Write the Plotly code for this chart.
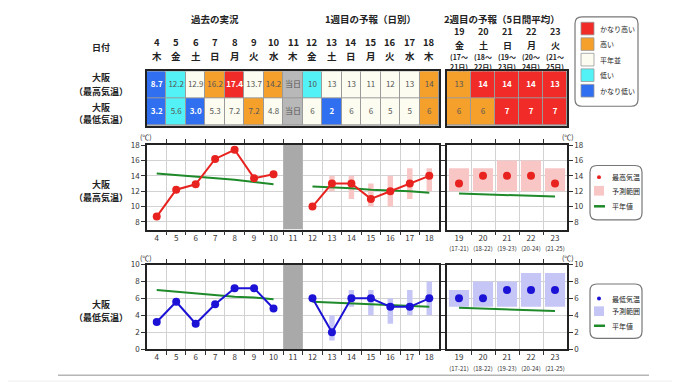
import plotly.graph_objects as go

# ---------------- data ----------------
days_w1 = [4, 5, 6, 7, 8, 9, 10, 11, 12, 13, 14, 15, 16, 17, 18]
weekdays_w1 = ["木", "金", "土", "日", "月", "火", "水", "木", "金", "土", "日", "月", "火", "水", "木"]
today = 11

obs_days = [4, 5, 6, 7, 8, 9, 10]
obs_max = [8.7, 12.2, 12.9, 16.2, 17.4, 13.7, 14.2]
obs_min = [3.2, 5.6, 3.0, 5.3, 7.2, 7.2, 4.8]
norm_max_obs = [14.3, 14.1, 13.9, 13.7, 13.5, 13.2, 12.9]
norm_min_obs = [7.0, 6.8, 6.6, 6.4, 6.2, 6.1, 5.9]

fc_days = [12, 13, 14, 15, 16, 17, 18]
fc_max = [10, 13, 13, 11, 12, 13, 14]
fc_min = [6, 2, 6, 6, 5, 5, 6]
fc_max_lo = [None, 12, 11, 10, 10, 11, 12]
fc_max_hi = [None, 14, 14, 13, 14, 15, 15]
fc_min_lo = [None, 1, 5, 4, 3, 4, 4]
fc_min_hi = [None, 4, 7, 7, 6, 7, 8]
norm_max_fc = [12.6, 12.5, 12.4, 12.2, 12.1, 12.0, 11.8]
norm_min_fc = [5.6, 5.5, 5.4, 5.3, 5.2, 5.1, 5.0]

w2_days = [19, 20, 21, 22, 23]
w2_weekdays = ["金", "土", "日", "月", "火"]
w2_period_start = [17, 18, 19, 20, 21]
w2_period_end = [21, 22, 23, 24, 25]
w2_max = [13, 14, 14, 14, 13]
w2_max_lo = [12, 12, 12, 12, 12]
w2_max_hi = [15, 15, 16, 16, 15]
w2_min = [6, 6, 7, 7, 7]
w2_min_lo = [5, 5, 5, 5, 5]
w2_min_hi = [7, 8, 8, 9, 9]
w2_norm_max = [11.7, 11.6, 11.5, 11.4, 11.3]
w2_norm_min = [4.9, 4.8, 4.7, 4.6, 4.5]

max_range = [7, 18]
max_ticks = [8, 10, 12, 14, 16, 18]
min_range = [0, 10]
min_ticks = [0, 2, 4, 6, 8, 10]

# table: class 0=かなり低い 1=低い 2=平年並 3=高い 4=かなり高い 5=当日
tab_max_text = ["8.7", "12.2", "12.9", "16.2", "17.4", "13.7", "14.2", "当日", "10", "13", "13", "11", "12", "13", "14"]
tab_max_cls = [0, 1, 2, 3, 4, 2, 3, 5, 1, 2, 2, 2, 2, 2, 3]
tab_min_text = ["3.2", "5.6", "3.0", "5.3", "7.2", "7.2", "4.8", "当日", "6", "2", "6", "6", "5", "5", "6"]
tab_min_cls = [0, 1, 0, 2, 2, 3, 2, 5, 2, 0, 2, 2, 2, 2, 3]
tab2_max_text = ["13", "14", "14", "14", "13"]
tab2_max_cls = [3, 4, 4, 4, 4]
tab2_min_text = ["6", "6", "7", "7", "7"]
tab2_min_cls = [3, 3, 4, 4, 4]

class_names = ["かなり低い", "低い", "平年並", "高い", "かなり高い"]
class_colors = ["#2f6ff0", "#52f2f6", "#fcfcf0", "#f6a02c", "#f02b28", "#b8b8b8"]

# ---------------- layout helpers ----------------
W, H = 680, 382
FONT = "Noto Sans CJK JP"


def px(x):
    return x / W


def py(y):
    return 1 - y / H


x_w1 = [px(139), px(431)]
x_w2 = [px(439), px(559)]
y_tab = [py(115), py(59)]
y_c1 = [py(222), py(135)]
y_c2 = [py(345), py(258)]

fig = go.Figure()

# ---------------- tables ----------------
n6 = len(class_colors)
cscale = []
for i, c in enumerate(class_colors):
    cscale.append([i / n6, c])
    cscale.append([(i + 1) / n6, c])


def add_table(xs, rows_text, rows_cls, xa, ya):
    fig.add_trace(go.Heatmap(
        x=xs, y=[0, 1], z=rows_cls, colorscale=cscale, zmin=-0.5, zmax=n6 - 0.5,
        showscale=False, xgap=1, ygap=1, hoverinfo="skip", xaxis=xa, yaxis=ya))
    tx, ty, tt, tc = [], [], [], []
    for r, (texts, clss) in enumerate(zip(rows_text, rows_cls)):
        for d, t, c in zip(xs, texts, clss):
            tx.append(d)
            ty.append(r)
            if c in (0, 4):
                tt.append("<b>" + t + "</b>")
                tc.append("white")
            else:
                tt.append(t)
                tc.append("#555555")
    fig.add_trace(go.Scatter(x=tx, y=ty, text=tt, mode="text",
                             textfont=dict(family=FONT, size=8, color=tc),
                             hoverinfo="skip", xaxis=xa, yaxis=ya, showlegend=False))


add_table(days_w1, [tab_max_text, tab_min_text], [tab_max_cls, tab_min_cls], "x5", "y5")
add_table(w2_days, [tab2_max_text, tab2_min_text], [tab2_max_cls, tab2_min_cls], "x6", "y6")

# ---------------- charts ----------------
PINK = "#f9c6c6"
LAV = "#c6c6f6"
RED = "#e8231f"
BLUE = "#1c12d6"
GREEN = "#1f8a2a"


def ranges(lo, hi):
    base = [l if l is not None else 0 for l in lo]
    h = [(h_ - l) if (l is not None and h_ is not None) else 0 for l, h_ in zip(lo, hi)]
    return base, h


def add_chart(xa, ya, xa2, ya2, yr, obs, nobs, fc, lo, hi, nfc, w2v, w2lo, w2hi, w2n, rc, lc):
    # today block
    fig.add_trace(go.Bar(x=[today], y=[yr[1] - yr[0]], base=[yr[0]], width=1.0,
                         marker=dict(color="#a9a9a9", line=dict(width=0)),
                         xaxis=xa, yaxis=ya, hoverinfo="skip", showlegend=False))
    b, h = ranges(lo, hi)
    fig.add_trace(go.Bar(x=fc_days, y=h, base=b, width=0.28, marker=dict(color=rc, line=dict(width=0)),
                         xaxis=xa, yaxis=ya, hoverinfo="skip", showlegend=False))
    fig.add_trace(go.Scatter(x=obs_days, y=nobs, mode="lines", line=dict(color=GREEN, width=2),
                             xaxis=xa, yaxis=ya, showlegend=False))
    fig.add_trace(go.Scatter(x=fc_days, y=nfc, mode="lines", line=dict(color=GREEN, width=2),
                             xaxis=xa, yaxis=ya, showlegend=False))
    fig.add_trace(go.Scatter(x=obs_days, y=obs, mode="lines+markers", line=dict(color=lc, width=2),
                             marker=dict(color=lc, size=8), xaxis=xa, yaxis=ya, showlegend=False))
    fig.add_trace(go.Scatter(x=fc_days, y=fc, mode="lines+markers", line=dict(color=lc, width=2),
                             marker=dict(color=lc, size=8), xaxis=xa, yaxis=ya, showlegend=False))
    b2, h2 = ranges(w2lo, w2hi)
    fig.add_trace(go.Bar(x=w2_days, y=h2, base=b2, width=0.84, marker=dict(color=rc, line=dict(width=0)),
                         xaxis=xa2, yaxis=ya2, hoverinfo="skip", showlegend=False))
    fig.add_trace(go.Scatter(x=w2_days, y=w2n, mode="lines", line=dict(color=GREEN, width=2),
                             xaxis=xa2, yaxis=ya2, showlegend=False))
    fig.add_trace(go.Scatter(x=w2_days, y=w2v, mode="markers", marker=dict(color=lc, size=8),
                             xaxis=xa2, yaxis=ya2, showlegend=False))


add_chart("x", "y", "x2", "y2", max_range, obs_max, norm_max_obs, fc_max, fc_max_lo, fc_max_hi, norm_max_fc,
          w2_max, w2_max_lo, w2_max_hi, w2_norm_max, PINK, RED)
add_chart("x3", "y3", "x4", "y4", min_range, obs_min, norm_min_obs, fc_min, fc_min_lo, fc_min_hi, norm_min_fc,
          w2_min, w2_min_lo, w2_min_hi, w2_norm_min, LAV, BLUE)

# ---------------- axes ----------------
AX_LINE = dict(showline=True, linecolor="#222222", linewidth=1.5, zeroline=False)
TICKF = dict(family=FONT, size=8, color="#333333")
GRID = "#d2d2d2"


def xaxis_days(dom, days, texts, anchor):
    return dict(domain=dom, anchor=anchor, range=[days[0] - 0.5, days[-1] + 0.5],
                tickmode="array", tickvals=days, ticktext=texts, ticks="", showgrid=False,
                tickfont=TICKF, mirror="ticks", fixedrange=True,
                minor=dict(tickmode="array", tickvals=[d + 0.5 for d in days[:-1]],
                           ticks="outside", ticklen=4, tickcolor="#333333",
                           showgrid=True, gridcolor=GRID, gridwidth=1),
                **AX_LINE)


def yaxis_t(dom, rng, vals, anchor, side):
    return dict(domain=dom, anchor=anchor, range=rng, tickmode="array", tickvals=vals,
                ticks="outside", ticklen=4, tickcolor="#333333", showgrid=True, gridcolor=GRID,
                tickfont=TICKF, mirror="ticks", side=side, fixedrange=True, **AX_LINE)


w1_ticktext = [str(d) for d in days_w1]
w2_ticktext = ["%d<br><span style='font-size:6px'>(%d-%d)</span>" % (d, a, b)
               for d, a, b in zip(w2_days, w2_period_start, w2_period_end)]

tab_ax = dict(showticklabels=False, ticks="", showgrid=False, mirror=True, fixedrange=True, **AX_LINE)

fig.update_layout(
    xaxis=xaxis_days(x_w1, days_w1, w1_ticktext, "y"),
    yaxis=yaxis_t(y_c1, max_range, max_ticks, "x", "left"),
    xaxis2=xaxis_days(x_w2, w2_days, w2_ticktext, "y2"),
    yaxis2=yaxis_t(y_c1, max_range, max_ticks, "x2", "right"),
    xaxis3=xaxis_days(x_w1, days_w1, w1_ticktext, "y3"),
    yaxis3=yaxis_t(y_c2, min_range, min_ticks, "x3", "left"),
    xaxis4=xaxis_days(x_w2, w2_days, w2_ticktext, "y4"),
    yaxis4=yaxis_t(y_c2, min_range, min_ticks, "x4", "right"),
    xaxis5=dict(domain=x_w1, anchor="y5", range=[days_w1[0] - 0.5, days_w1[-1] + 0.5], **tab_ax),
    yaxis5=dict(domain=y_tab, anchor="x5", range=[1.5, -0.5], **tab_ax),
    xaxis6=dict(domain=x_w2, anchor="y6", range=[w2_days[0] - 0.5, w2_days[-1] + 0.5], **tab_ax),
    yaxis6=dict(domain=y_tab, anchor="x6", range=[1.5, -0.5], **tab_ax),
)

fig.update_layout(width=W, height=H, autosize=False, margin=dict(l=0, r=0, t=0, b=0),
                  paper_bgcolor="white", plot_bgcolor="white", showlegend=False,
                  barmode="overlay", font=dict(family=FONT, color="#222222"))

# ---------------- shapes ----------------
shapes = []
# table gap background
for xa, ya in (("x5", "y5"), ("x6", "y6")):
    shapes.append(dict(type="rect", xref=xa + " domain", yref=ya + " domain", x0=0, x1=1, y0=0, y1=1,
                       fillcolor="#9a9a9a", line=dict(width=0), layer="below"))


def rrect(x0, y0, x1, y1, r=7):
    p = lambda x, y: "%f,%f" % (px(x), py(y))
    path = ("M " + p(x0 + r, y0) + " L " + p(x1 - r, y0) + " Q " + p(x1, y0) + " " + p(x1, y0 + r) +
            " L " + p(x1, y1 - r) + " Q " + p(x1, y1) + " " + p(x1 - r, y1) +
            " L " + p(x0 + r, y1) + " Q " + p(x0, y1) + " " + p(x0, y1 - r) +
            " L " + p(x0, y0 + r) + " Q " + p(x0, y0) + " " + p(x0 + r, y0) + " Z")
    return dict(type="path", xref="paper", yref="paper", path=path,
                line=dict(color="#777777", width=1.2), fillcolor="white")


shapes.append(rrect(567, 3, 630, 95))
shapes.append(rrect(582, 156, 634, 212))
shapes.append(rrect(582, 278, 634, 334))

# legend 1 swatches
leg1_y = [15, 31, 47, 63, 79]
for yy, ci in zip(leg1_y, [4, 3, 2, 1, 0]):
    shapes.append(dict(type="rect", xref="paper", yref="paper", x0=px(573), x1=px(586),
                       y0=py(yy + 6.5), y1=py(yy - 6.5), fillcolor=class_colors[ci],
                       line=dict(color="#999999", width=0.8)))

# chart legends
for (ydot, ysq, yln), col, rc in (((168, 182, 198), RED, PINK), ((293, 306, 321), BLUE, LAV)):
    shapes.append(dict(type="circle", xref="paper", yref="paper", x0=px(589), x1=px(593),
                       y0=py(ydot + 2), y1=py(ydot - 2), fillcolor=col, line=dict(width=0)))
    shapes.append(dict(type="rect", xref="paper", yref="paper", x0=px(586), x1=px(596),
                       y0=py(ysq + 5), y1=py(ysq - 5), fillcolor=rc, line=dict(width=0)))
    shapes.append(dict(type="line", xref="paper", yref="paper", x0=px(586), x1=px(597),
                       y0=py(yln), y1=py(yln), line=dict(color=GREEN, width=2.5)))

# bottom separator and strip
shapes.append(dict(type="line", xref="paper", yref="paper", x0=px(50), x1=px(641), y0=py(372), y1=py(372),
                   line=dict(color="#b5b5b5", width=1.5)))
shapes.append(dict(type="rect", xref="paper", yref="paper", x0=0, x1=1, y0=0, y1=py(377),
                   fillcolor="#f5f5f5", line=dict(width=0), layer="below"))

fig.update_layout(shapes=shapes)

# ---------------- annotations ----------------
ann = []


def A(x, y, text, size=9, xref="paper", xanchor="center", bold=False, color="#222222"):
    ann.append(dict(x=x, y=y, xref=xref, yref="paper", text=text, showarrow=False,
                    xanchor=xanchor, yanchor="middle", borderpad=0,
                    font=dict(family=FONT, size=size, color=color, weight="bold" if bold else "normal")))


A(px(207), py(5.5), "過去の実況", 9.5, bold=True)
A(px(362), py(5.5), "1週目の予報（日別）", 9.5, bold=True)
A(px(494), py(5.5), "2週目の予報（5日間平均）", 9.5, bold=True)

A(px(93), py(35), "日付", 9, bold=True)
A(px(93), py(65), "大阪", 9, bold=True)
A(px(93), py(80), "（最高気温）", 9, bold=True)
A(px(93), py(96), "大阪", 9, bold=True)
A(px(93), py(109), "（最低気温）", 9, bold=True)
A(px(93), py(176), "大阪", 9, bold=True)
A(px(93), py(189), "（最高気温）", 9, bold=True)
A(px(93), py(299), "大阪", 9, bold=True)
A(px(93), py(312), "（最低気温）", 9, bold=True)

for d, wd in zip(days_w1, weekdays_w1):
    A(d, py(29), str(d), 9.5, xref="x5", bold=True)
    A(d, py(43), wd, 9.5, xref="x5", bold=True)
for d, wd, a, b in zip(w2_days, w2_weekdays, w2_period_start, w2_period_end):
    A(d, py(18.5), str(d), 9, xref="x6", bold=True)
    A(d, py(32), wd, 9, xref="x6", bold=True)
    A(d, py(44), "(%d～" % a, 7, xref="x6", bold=True)
    A(d, py(54.3), "%d日)" % b, 7, xref="x6", bold=True)

for txt, yy in zip(class_names[::-1], leg1_y):
    A(px(591), py(yy), txt, 7, xanchor="left")

for ys, name in (((168, 182, 198), "最高気温"), ((293, 306, 321), "最低気温")):
    for yy, t in zip(ys, [name, "予測範囲", "平年値"]):
        A(px(603), py(yy), t, 7, xanchor="left")

for yy in (127, 251):
    A(px(138), py(yy), "(℃)", 7)
    A(px(560), py(yy), "(℃)", 7)

fig.update_layout(annotations=ann)

fig.write_html("out.html")
